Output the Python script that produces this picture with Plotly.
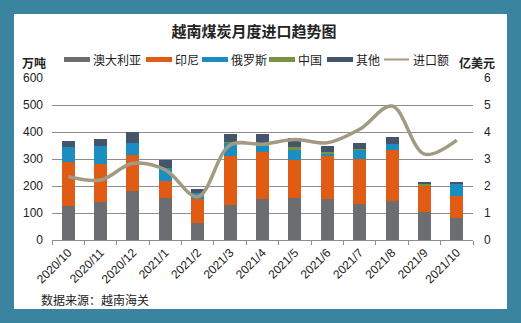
import plotly.graph_objects as go

categories = ['2020/10', '2020/11', '2020/12', '2021/1', '2021/2', '2021/3', '2021/4',
              '2021/5', '2021/6', '2021/7', '2021/8', '2021/9', '2021/10']
australia = [125, 141, 181, 155, 62, 130, 152, 156, 152, 133, 144, 104, 82]
indonesia = [165, 140, 134, 63, 89, 181, 175, 140, 162, 167, 189, 97, 82]
russia = [53, 67, 43, 50, 22, 49, 23, 40, 7, 36, 23, 2, 46]
china = [0, 0, 0, 0, 0, 2, 5, 7, 6, 1, 1, 6, 0]
other = [25, 26, 43, 29, 16, 31, 38, 35, 22, 23, 26, 3, 2]
import_value = [2.35, 2.22, 2.84, 2.6, 1.6, 3.52, 3.55, 3.72, 3.6, 4.1, 4.96, 3.18, 3.7]

FONT = "Liberation Sans, Noto Sans CJK SC, sans-serif"
CJK = "Noto Sans CJK SC, sans-serif"

series = [("澳大利亚", australia, "#6c6d70"),
          ("印尼", indonesia, "#e05c14"),
          ("俄罗斯", russia, "#1b8dc0"),
          ("中国", china, "#77933c"),
          ("其他", other, "#44546a")]
line_name, line_color = "进口额", "#a39a82"

fig = go.Figure()
for name, vals, col in series:
    fig.add_trace(go.Bar(x=categories, y=vals, name=name, marker_color=col,
                         marker_line_width=0, showlegend=False))
fig.add_trace(go.Scatter(x=categories, y=import_value, name=line_name, yaxis="y2",
                         mode="lines", showlegend=False,
                         line=dict(color=line_color, width=3.5, shape="spline", smoothing=1)))

L, R, T, B = 52, 473, 78, 240
W = R - L
H = B - T

def px_x(p):
    return (p - L) / W

def px_y(p):
    return (B - p) / H

# legend layout (pixel positions of each legend entry's swatch start)
legend_x = [64, 146, 202, 269, 327, 384]
legend_y = 59.5
shapes = [dict(type="rect", xref="paper", yref="paper", layer="below",
               x0=px_x(14), x1=px_x(507), y0=px_y(309), y1=px_y(14),
               fillcolor="white", line_width=0)]
annotations = []
entries = [(n, c) for n, _, c in series] + [(line_name, line_color)]
for i, (name, col) in enumerate(entries):
    x0 = legend_x[i]
    if name == line_name:
        shapes.append(dict(type="line", xref="paper", yref="paper",
                           x0=px_x(x0), x1=px_x(x0 + 25), y0=px_y(legend_y), y1=px_y(legend_y),
                           line=dict(color=col, width=2)))
    else:
        shapes.append(dict(type="rect", xref="paper", yref="paper",
                           x0=px_x(x0), x1=px_x(x0 + 26), y0=px_y(legend_y + 2.5),
                           y1=px_y(legend_y - 2.5), fillcolor=col, line_width=0))
    annotations.append(dict(text=name, xref="paper", yref="paper", x=px_x(x0 + 27),
                            y=px_y(legend_y), xanchor="left", yanchor="middle",
                            showarrow=False, font=dict(family=CJK, size=12, color="#222")))

annotations += [
    dict(text="<b>万吨</b>", xref="paper", yref="paper", x=px_x(34), y=px_y(62),
         xanchor="center", yanchor="middle",
         showarrow=False, font=dict(family=CJK, size=12, color="#222")),
    dict(text="<b>亿美元</b>", xref="paper", yref="paper", x=px_x(477), y=px_y(62),
         xanchor="center", yanchor="middle",
         showarrow=False, font=dict(family=CJK, size=12, color="#222")),
    dict(text="数据来源：越南海关", xref="paper", yref="paper", x=px_x(39), y=px_y(299),
         xanchor="left", yanchor="middle", showarrow=False,
         font=dict(family=CJK, size=12, color="#222")),
]

fig.update_layout(
    width=521, height=323,
    margin=dict(l=L, r=521 - R, t=T, b=323 - B),
    paper_bgcolor="#3a84a0",
    plot_bgcolor="rgba(0,0,0,0)",
    barmode="stack",
    bargap=0.6,
    font=dict(family=FONT, size=12, color="#222"),
    title=dict(text="<b>越南煤炭月度进口趋势图</b>", x=254 / 521, xanchor="center",
               y=1 - 32 / 323, yanchor="middle",
               font=dict(family=CJK, size=15, color="#222")),
    showlegend=False,
    xaxis=dict(type="category", tickangle=-45, showline=True, linecolor="#8c8c8c",
               ticks="outside", tickson="boundaries", ticklen=4, tickcolor="#8c8c8c",
               showgrid=False, tickfont=dict(family=FONT, size=12, color="#222")),
    yaxis=dict(range=[0, 600], dtick=100, showgrid=True, gridcolor="#8c8c8c", gridwidth=1,
               zeroline=False, showline=False, tickfont=dict(family=FONT, size=12, color="#222"),
               ticks="", ticklabelstandoff=8),
    yaxis2=dict(range=[0, 6], dtick=1, overlaying="y", side="right", showgrid=False,
                zeroline=False, showline=False, tickfont=dict(family=FONT, size=12, color="#222"),
                ticklabelstandoff=10),
    shapes=shapes,
    annotations=annotations,
)

fig.write_html("out.html")
